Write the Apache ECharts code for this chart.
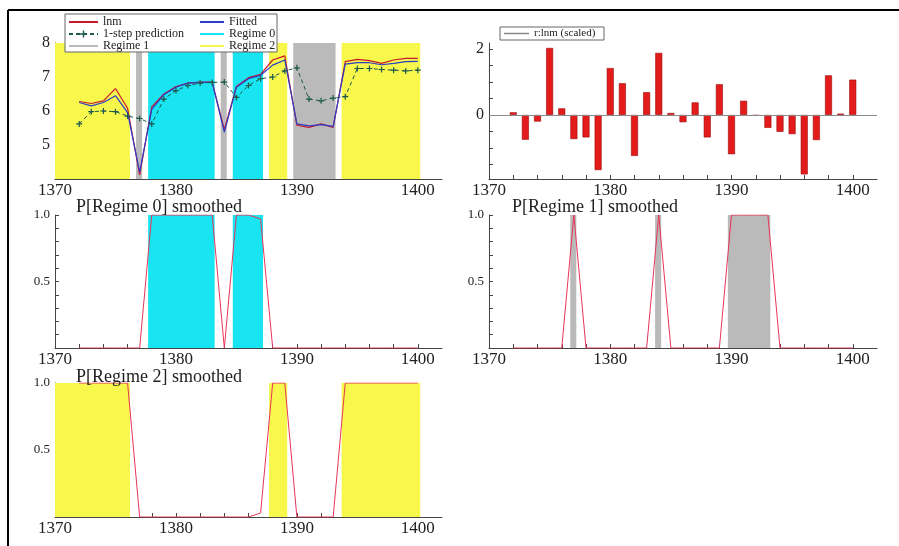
<!DOCTYPE html>
<html>
<head>
<meta charset="utf-8">
<script src="https://cdn.jsdelivr.net/npm/echarts@6/dist/echarts.min.js"></script>
<style>
  html, body { margin: 0; padding: 0; background: #fff; }
  #chart { width: 899px; height: 546px; }
</style>
</head>
<body>
<div id="chart"></div>
<script>
// observation years
const years = [1372, 1373, 1374, 1375, 1376, 1377, 1378, 1379, 1380, 1381,
  1382, 1383, 1384, 1385, 1386, 1387, 1388, 1389, 1390, 1391,
  1392, 1393, 1394, 1395, 1396, 1397, 1398, 1399, 1400];

const lnm = [6.28, 6.22, 6.30, 6.66, 6.08, 4.12, 6.12, 6.50, 6.72, 6.82,
  6.85, 6.85, 5.45, 6.72, 6.98, 7.08, 7.50, 7.62, 5.58, 5.52,
  5.62, 5.52, 7.45, 7.52, 7.48, 7.40, 7.50, 7.55, 7.55];

const fitted = [6.25, 6.15, 6.25, 6.45, 5.95, 4.20, 6.05, 6.48, 6.70, 6.82,
  6.84, 6.84, 5.38, 6.70, 6.95, 7.05, 7.35, 7.50, 5.62, 5.56,
  5.60, 5.55, 7.38, 7.42, 7.42, 7.36, 7.40, 7.45, 7.46];

const prediction = [5.62, 5.98, 6.00, 5.98, 5.85, 5.78, 5.62, 6.35, 6.60, 6.75,
  6.82, 6.84, 6.85, 6.40, 6.75, 6.95, 7.00, 7.18, 7.27, 6.35,
  6.30, 6.38, 6.42, 7.25, 7.25, 7.22, 7.20, 7.18, 7.20];

const residuals = [0.08, -0.75, -0.20, 2.03, 0.20, -0.73, -0.68, -1.67, 1.42, 0.96,
  -1.24, 0.69, 1.88, 0.06, -0.22, 0.38, -0.68, 0.93, -1.19, 0.43,
  -0.02, -0.39, -0.51, -0.58, -1.80, -0.76, 1.20, 0.04, 1.07];

const pRegime0 = [0, 0, 0, 0, 0, 0, 1, 1, 1, 1,
  1, 1, 0, 1, 1, 0.97, 0, 0, 0, 0,
  0, 0, 0, 0, 0, 0, 0, 0, 0];
const pRegime1 = [0, 0, 0, 0, 0, 1, 0, 0, 0, 0,
  0, 0, 1, 0, 0, 0, 0, 0, 1, 1,
  1, 1, 0, 0, 0, 0, 0, 0, 0];
const pRegime2 = [1, 1, 1, 1, 1, 0, 0, 0, 0, 0,
  0, 0, 0, 0, 0, 0.03, 1, 1, 0, 0,
  0, 0, 1, 1, 1, 1, 1, 1, 1];

const xTickLabels = [1370, 1380, 1390, 1400];
const lnmTickLabels = [5, 6, 7, 8];
const residTickLabels = [0, 2];
const probTickLabels = [0.5, 1.0];

const X_MIN = 1370, X_MAX = 1402;
const FONT = 'Liberation Serif';
const CYAN = '#18e4f2', GREY = '#bababa', YELLOW = '#f7f74c';

const pairs = arr => years.map((y, i) => [y, arr[i]]);

// runs where a regime has prob > 0.5 -> shaded spans
function regimeSpans(p) {
  const spans = [];
  let start = null;
  p.forEach((v, i) => {
    if (v > 0.5 && start === null) start = i;
    if ((v <= 0.5 || i === p.length - 1) && start !== null) {
      const end = v > 0.5 ? i : i - 1;
      const a = start === 0 ? X_MIN : years[start] - 0.3;
      spans.push([{ xAxis: a }, { xAxis: years[end] + 0.2 }]);
      start = null;
    }
  });
  return spans;
}

const xTicks = [];
for (let y = X_MIN; y <= 1400; y += 2) xTicks.push(y);

function xAxis(gridIndex) {
  return {
    type: 'value', gridIndex, min: X_MIN, max: X_MAX,
    axisLine: { show: true, onZero: false, lineStyle: { color: '#444' } },
    axisTick: { show: true, inside: true, length: 4, customValues: xTicks, lineStyle: { color: '#444' } },
    axisLabel: {
      customValues: xTickLabels, fontFamily: FONT, fontSize: 17, color: '#222', margin: 3,
      formatter: v => String(v)
    },
    splitLine: { show: false }
  };
}

function yAxis(gridIndex, min, max, labels, ticks, fontSize, fmt) {
  return {
    type: 'value', gridIndex, min, max,
    axisLine: { show: true, onZero: false, lineStyle: { color: '#444' } },
    axisTick: { show: true, inside: true, length: 4, customValues: ticks, lineStyle: { color: '#444' } },
    axisLabel: { customValues: labels, fontFamily: FONT, fontSize, color: '#222', margin: 5, formatter: fmt || (v => String(v)) },
    splitLine: { show: false }
  };
}

const shade = (name, color, grid, spans) => ({
  name, type: 'line', xAxisIndex: grid, yAxisIndex: grid, data: [], symbol: 'none',
  color, lineStyle: { color, width: 1.5 }, z: 1, silent: true,
  markArea: { silent: true, itemStyle: { color, opacity: 1 }, data: spans }
});

const probLine = (grid, data) => ({
  type: 'line', xAxisIndex: grid, yAxisIndex: grid, data: pairs(data), symbol: 'none',
  lineStyle: { color: '#e8345a', width: 1 }, z: 3
});

const chart = echarts.init(document.getElementById('chart'), null, { renderer: 'canvas' });

const titleStyle = { fontFamily: FONT, fontSize: 18, fontWeight: 'normal', color: '#222' };
const legendText = { fontFamily: FONT, fontSize: 12, color: '#222', lineHeight: 11 };

const option = {
  animation: false,
  title: [
    { text: 'P[Regime 0] smoothed', left: 71, top: 193, textStyle: titleStyle },
    { text: 'P[Regime 1] smoothed', left: 507, top: 193, textStyle: titleStyle },
    { text: 'P[Regime 2] smoothed', left: 71, top: 363, textStyle: titleStyle }
  ],
  legend: [
    {
      data: ['lnm', { name: '1-step prediction', itemStyle: { opacity: 1 } }, 'Regime 1'],
      z: 20, padding: 0, itemStyle: { opacity: 0 },
      orient: 'vertical', left: 68, top: 16, itemGap: 0, itemWidth: 29, itemHeight: 9,
      textStyle: legendText, selectedMode: false
    },
    {
      data: ['Fitted', 'Regime 0', 'Regime 2'], z: 20, padding: 0, itemStyle: { opacity: 0 },
      orient: 'vertical', left: 199, top: 16, itemGap: 0, itemWidth: 24, itemHeight: 9,
      textStyle: legendText, selectedMode: false
    },
    {
      data: [{ name: 'r:lnm (scaled)', icon: 'rect', itemStyle: { color: '#8a8a8a', borderWidth: 0 } }],
      z: 20, padding: 0, left: 504, top: 28, itemWidth: 25, itemHeight: 1.5,
      textStyle: { fontFamily: FONT, fontSize: 11, color: '#222', lineHeight: 11 }, selectedMode: false
    }
  ],
  graphic: [
    { type: 'rect', shape: { x: 65, y: 14, width: 212, height: 38 }, style: { fill: '#fff', stroke: '#666', lineWidth: 1 }, z: 6 },
    { type: 'rect', shape: { x: 500, y: 27, width: 104, height: 13 }, style: { fill: '#fff', stroke: '#666', lineWidth: 1 }, z: 6 },
    { type: 'line', shape: { x1: 8, y1: 10, x2: 899, y2: 10 }, style: { stroke: '#000', lineWidth: 2 } },
    { type: 'line', shape: { x1: 8, y1: 10, x2: 8, y2: 546 }, style: { stroke: '#000', lineWidth: 2 } }
  ],
  grid: [
    { left: 55, top: 43, width: 387, height: 136 },
    { left: 489, top: 43, width: 388, height: 136 },
    { left: 55, top: 215, width: 387, height: 133 },
    { left: 489, top: 215, width: 388, height: 133 },
    { left: 55, top: 383, width: 387, height: 134 }
  ],
  xAxis: [xAxis(0), xAxis(1), xAxis(2), xAxis(3), xAxis(4)],
  yAxis: [
    yAxis(0, 4, 8, lnmTickLabels, [4.5, 5, 5.5, 6, 6.5, 7, 7.5, 8], 16),
    yAxis(1, -1.94, 2.18, residTickLabels, [-1.5, -1, -0.5, 0, 0.5, 1, 1.5, 2], 16),
    yAxis(2, 0, 1, probTickLabels, [0.1, 0.2, 0.3, 0.4, 0.5, 0.6, 0.7, 0.8, 0.9, 1], 13, v => v.toFixed(1)),
    yAxis(3, 0, 1, probTickLabels, [0.1, 0.2, 0.3, 0.4, 0.5, 0.6, 0.7, 0.8, 0.9, 1], 13, v => v.toFixed(1)),
    yAxis(4, 0, 1, probTickLabels, [0.1, 0.2, 0.3, 0.4, 0.5, 0.6, 0.7, 0.8, 0.9, 1], 13, v => v.toFixed(1))
  ],
  series: [
    shade('Regime 0', CYAN, 0, regimeSpans(pRegime0)),
    shade('Regime 1', GREY, 0, regimeSpans(pRegime1)),
    shade('Regime 2', YELLOW, 0, regimeSpans(pRegime2)),
    {
      name: 'lnm', type: 'line', xAxisIndex: 0, yAxisIndex: 0, data: pairs(lnm), symbol: 'none',
      color: '#c8182e', lineStyle: { color: '#c8182e', width: 1.2 }, z: 3
    },
    {
      name: 'Fitted', type: 'line', xAxisIndex: 0, yAxisIndex: 0, data: pairs(fitted), symbol: 'none',
      color: '#2e3cc4', lineStyle: { color: '#2e3cc4', width: 1.2 }, z: 4
    },
    {
      name: '1-step prediction', type: 'line', xAxisIndex: 0, yAxisIndex: 0, data: pairs(prediction),
      symbol: 'path://M4,0H6V4H10V6H6V10H4V6H0V4H4Z', symbolSize: 6, showSymbol: true,
      color: '#1d5a4c', itemStyle: { color: '#1d5a4c' },
      lineStyle: { color: '#1d5a4c', width: 1, type: [4, 3] }, z: 4
    },
    {
      name: 'r:lnm (scaled)', type: 'bar', xAxisIndex: 1, yAxisIndex: 1, data: pairs(residuals),
      barWidth: 7, itemStyle: { color: '#e31b1b', borderColor: '#9a0c0c', borderWidth: 0.6 },
      markLine: {
        silent: true, symbol: 'none', label: { show: false },
        lineStyle: { color: '#8a8a8a', type: 'solid', width: 1 },
        data: [{ yAxis: 0 }]
      }
    },
    shade('s0', CYAN, 2, regimeSpans(pRegime0)),
    probLine(2, pRegime0),
    shade('s1', GREY, 3, regimeSpans(pRegime1)),
    probLine(3, pRegime1),
    shade('s2', YELLOW, 4, regimeSpans(pRegime2)),
    probLine(4, pRegime2)
  ]
};

chart.setOption(option);
</script>
</body>
</html>
